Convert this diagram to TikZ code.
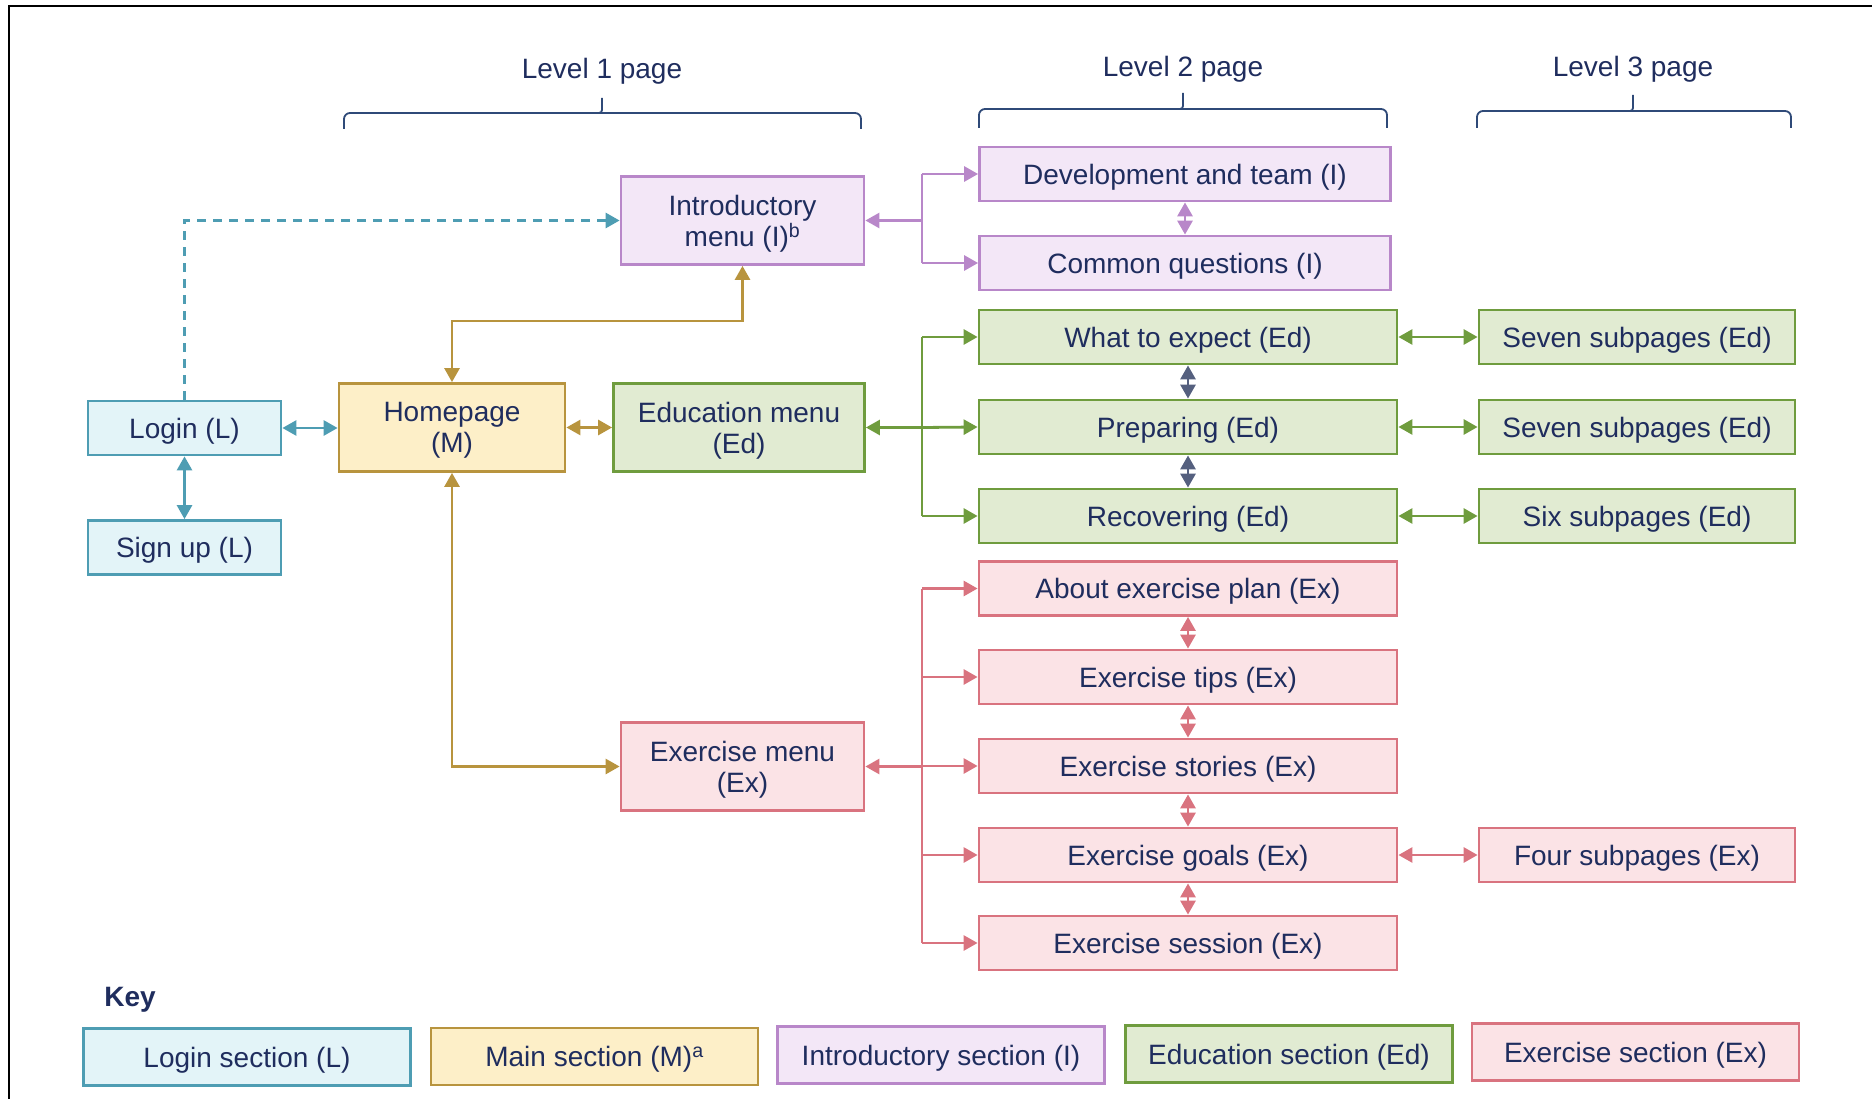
\documentclass[tikz,border=0pt]{standalone}
\usepackage{fontspec}
\setmainfont{Liberation Sans}
\usetikzlibrary{arrows.meta}
\definecolor{txt}{HTML}{1F2D5E}
\definecolor{brc}{HTML}{2F4A78}
\definecolor{Lfill}{HTML}{E3F4F8}
\definecolor{Ldraw}{HTML}{4E9DB3}
\definecolor{Mfill}{HTML}{FDEFC8}
\definecolor{Mdraw}{HTML}{B8943E}
\definecolor{Ifill}{HTML}{F3E7F7}
\definecolor{Idraw}{HTML}{B887C9}
\definecolor{Edfill}{HTML}{E1EBD2}
\definecolor{Eddraw}{HTML}{6F9C3E}
\definecolor{Exfill}{HTML}{FBE3E6}
\definecolor{Exdraw}{HTML}{D9737F}
\definecolor{slate}{HTML}{55607F}
\begin{document}
\begin{tikzpicture}[x=1pt,y=-1pt,
  font=\fontsize{28}{31}\selectfont,
  box/.style={draw, line width=2.8pt, inner sep=0pt, align=center, text=txt, text depth=-3pt},
  secL/.style={box, fill=Lfill, draw=Ldraw},
  secM/.style={box, fill=Mfill, draw=Mdraw},
  secI/.style={box, fill=Ifill, draw=Idraw},
  secEd/.style={box, fill=Edfill, draw=Eddraw},
  secEx/.style={box, fill=Exfill, draw=Exdraw},
  lvtwo/.style={minimum width=418pt, minimum height=54pt},
  lvthree/.style={minimum width=316pt, minimum height=54pt},
  menu/.style={minimum width=243pt, minimum height=88pt},
  small/.style={minimum width=193pt, minimum height=54pt},
  keybox/.style={minimum width=327pt, minimum height=57pt},
  conn/.style={line width=2.8pt, >={Triangle[length=14pt,width=15pt]}},
  brace/.style={draw=brc, line width=1.8pt, rounded corners=6pt},
  lvl/.style={text=txt, inner sep=0pt, text depth=-3pt}
]
\useasboundingbox (0,0) rectangle (1872,1099);
\draw[line width=2pt] (9,1099) -- (9,6) -- (1872,6);

% level headers
\node[lvl] (lv1) at (602,68) {Level 1 page};
\node[lvl] (lv2) at (1183,66) {Level 2 page};
\node[lvl] (lv3) at (1633,66) {Level 3 page};
\draw[brace] (344,129) -- (344,113) -- (861,113) -- (861,129);
\draw[brace, rounded corners=3pt] (590,113) -- (602,113) -- (602,98);
\draw[brace] (979,128) -- (979,109) -- (1387,109) -- (1387,128);
\draw[brace, rounded corners=3pt] (1171,109) -- (1183,109) -- (1183,93);
\draw[brace] (1477,128) -- (1477,111) -- (1791,111) -- (1791,128);
\draw[brace, rounded corners=3pt] (1621,111) -- (1633,111) -- (1633,95);

% nodes
\node[secL, small] (login) at (184.5,428) {Login (L)};
\node[secL, small] (signup) at (184.5,547.5) {Sign up (L)};
\node[secM, minimum width=226pt, minimum height=88pt] (home) at (452,427.5) {Homepage\\(M)};
\node[secI, menu] (intro) at (742.5,220.5) {Introductory\\menu (I)\textsuperscript{b}};
\node[secEd, minimum width=251pt, minimum height=88pt] (edu) at (739,427.5) {Education menu\\(Ed)};
\node[secEx, menu] (exm) at (742.5,766.5) {Exercise menu\\(Ex)};

\node[secI, minimum width=411pt, minimum height=54pt] (dev) at (1185,174) {Development and team (I)};
\node[secI, minimum width=411pt, minimum height=54pt] (cq) at (1185,263) {Common questions (I)};

\node[secEd, lvtwo] (what) at (1188,337) {What to expect (Ed)};
\node[secEd, lvtwo] (prep) at (1188,427) {Preparing (Ed)};
\node[secEd, lvtwo] (rec) at (1188,516) {Recovering (Ed)};
\node[secEd, lvthree] (s1) at (1637,337) {Seven subpages (Ed)};
\node[secEd, lvthree] (s2) at (1637,427) {Seven subpages (Ed)};
\node[secEd, lvthree] (s3) at (1637,516) {Six subpages (Ed)};

\node[secEx, lvtwo] (about) at (1188,588.5) {About exercise plan (Ex)};
\node[secEx, lvtwo] (tips) at (1188,677) {Exercise tips (Ex)};
\node[secEx, lvtwo] (stories) at (1188,766) {Exercise stories (Ex)};
\node[secEx, lvtwo] (goals) at (1188,855) {Exercise goals (Ex)};
\node[secEx, lvtwo] (session) at (1188,943) {Exercise session (Ex)};
\node[secEx, lvthree] (four) at (1637,855) {Four subpages (Ex)};

% key
\node[lvl, font=\fontsize{28}{31}\selectfont\bfseries] (key) at (130,997) {Key};
\node[secL, keybox] (kL) at (247,1057) {Login section (L)};
\node[secM, keybox] (kM) at (594.5,1056.5) {Main section (M)\textsuperscript{a}};
\node[secI, keybox] (kI) at (941,1055) {Introductory section (I)};
\node[secEd, keybox] (kEd) at (1289,1054) {Education section (Ed)};
\node[secEx, keybox] (kEx) at (1635.5,1052) {Exercise section (Ex)};

% login connectors
\draw[conn, draw=Ldraw, <->] (login.east) -- (home.west |- login.east);
\draw[conn, draw=Ldraw, <->] (login.south) -- (signup.north);
\draw[conn, draw=Ldraw, ->, dash pattern=on 9pt off 7pt] (login.north) |- (intro.west);

% main connectors
\draw[conn, draw=Mdraw, <->] (home.north) -- ++(0,-61) -| (intro.south);
\draw[conn, draw=Mdraw, <->] (home.east) -- (edu.west);
\draw[conn, draw=Mdraw, <->] (home.south) |- (exm.west);

% introductory branch
\coordinate (it) at (922,174);
\coordinate (ib) at (922,263);
\coordinate (ij) at (922,220.5);
\draw[conn, draw=Idraw] (it) -- (ib);
\draw[conn, draw=Idraw, ->] (ij) -- (intro.east);
\draw[conn, draw=Idraw, ->] (it) -- (dev.west);
\draw[conn, draw=Idraw, ->] (ib) -- (cq.west);
\draw[conn, draw=Idraw, <->] (dev.south) -- (cq.north);

% education branch
\coordinate (et) at (922,337);
\coordinate (eb) at (922,516);
\coordinate (ej) at (922,427.5);
\draw[conn, draw=Eddraw] (et) -- (eb);
\draw[conn, draw=Eddraw, ->] (ej) -- (edu.east);
\draw[conn, draw=Eddraw, ->] (et) -- (what.west);
\draw[conn, draw=Eddraw, ->] (ej) -- (prep.west);
\draw[conn, draw=Eddraw, ->] (eb) -- (rec.west);
\draw[conn, draw=slate, <->] (what.south) -- (prep.north);
\draw[conn, draw=slate, <->] (prep.south) -- (rec.north);
\draw[conn, draw=Eddraw, <->] (what.east) -- (s1.west);
\draw[conn, draw=Eddraw, <->] (prep.east) -- (s2.west);
\draw[conn, draw=Eddraw, <->] (rec.east) -- (s3.west);

% exercise branch
\coordinate (xt) at (922,588.5);
\coordinate (xb) at (922,943);
\coordinate (xj) at (922,766.5);
\draw[conn, draw=Exdraw] (xt) -- (xb);
\draw[conn, draw=Exdraw, ->] (xj) -- (exm.east);
\draw[conn, draw=Exdraw, ->] (xt) -- (about.west);
\draw[conn, draw=Exdraw, ->] (922,677) -- (tips.west);
\draw[conn, draw=Exdraw, ->] (922,766) -- (stories.west);
\draw[conn, draw=Exdraw, ->] (922,855) -- (goals.west);
\draw[conn, draw=Exdraw, ->] (xb) -- (session.west);
\draw[conn, draw=Exdraw, <->] (about.south) -- (tips.north);
\draw[conn, draw=Exdraw, <->] (tips.south) -- (stories.north);
\draw[conn, draw=Exdraw, <->] (stories.south) -- (goals.north);
\draw[conn, draw=Exdraw, <->] (goals.south) -- (session.north);
\draw[conn, draw=Exdraw, <->] (goals.east) -- (four.west);
\end{tikzpicture}
\end{document}
